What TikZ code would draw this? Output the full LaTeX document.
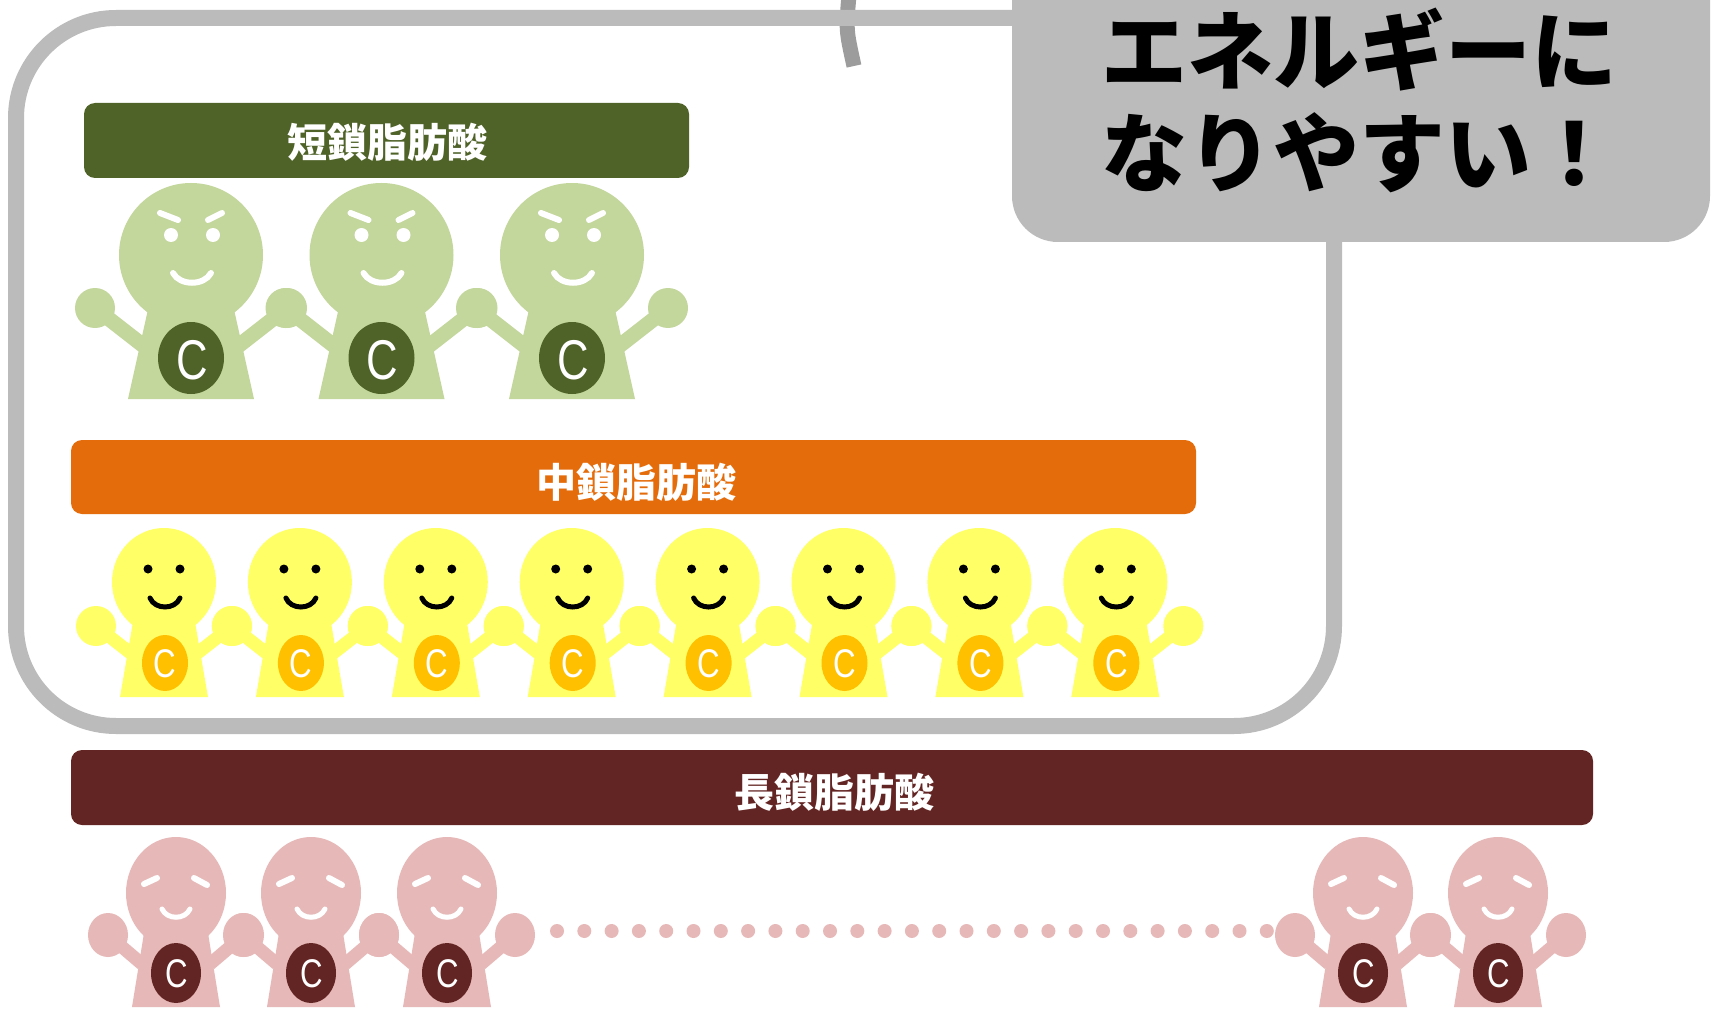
\documentclass[tikz,border=0pt]{standalone}
\usepackage{fontspec}
\setsansfont{Liberation Sans}
\newfontfamily\jp{Noto Sans CJK JP}
\definecolor{framegray}{HTML}{BBBBBB}
\definecolor{arcgray}{HTML}{9C9C9C}
\definecolor{olivedark}{HTML}{4F6228}
\definecolor{olivelight}{HTML}{C3D69B}
\definecolor{orangebar}{HTML}{E46C0A}
\definecolor{lemon}{HTML}{FFFF66}
\definecolor{amber}{HTML}{FFC000}
\definecolor{maroon}{HTML}{632523}
\definecolor{rose}{HTML}{E6B9B8}
\tikzset{
  x=1pt, y=-1pt,
  barlabel/.style={text=white, inner sep=0pt, font=\jp\bfseries\fontsize{40}{44}\selectfont},
  bubbletext/.style={text=black, inner sep=0pt, font=\jp\bfseries\fontsize{86}{90}\selectfont},
  cbig/.style={text=white, inner sep=0pt, xscale=0.78, font=\sffamily\fontsize{56}{56}\selectfont},
  csmall/.style={text=white, inner sep=0pt, xscale=0.78, font=\sffamily\fontsize{40}{40}\selectfont},
  % short-chain figure: determined face
  greenguy/.pic={
    \fill[olivelight] (-96,53) circle[radius=20] (96,53) circle[radius=20];
    \draw[olivelight, line width=15] (-96,53) -- (-46,92) (96,53) -- (46,92);
    \fill[olivelight] (-42,50) -- (42,50) -- (63,144) -- (-63,144) -- cycle;
    \fill[olivelight] (0,0) circle[radius=72];
    \fill[olivedark] (0,103) ellipse[x radius=33, y radius=36];
    \node[cbig] (-c) at (1,105) {C};
    \fill[white] (-20,-20) circle[radius=7] (22,-20) circle[radius=7];
    \draw[white, line width=6, line cap=round]
      (-31,-42) -- (-13,-35) (17,-35) -- (31,-42);
    \draw[white, line width=6, line cap=round]
      (-18,18) .. controls (-11,31) and (13,31) .. (20,18);
  },
  % medium-chain figure: smiling face
  yellowguy/.pic={
    \fill[lemon] (-68,44) circle[radius=20] (68,44) circle[radius=20];
    \draw[lemon, line width=13] (-68,44) -- (-31,73) (68,44) -- (31,73);
    \fill[lemon] (-31,40) -- (31,40) -- (44,115) -- (-44,115) -- cycle;
    \fill[lemon] (0,0) ellipse[x radius=52, y radius=54];
    \fill[amber] (1,81) ellipse[x radius=23, y radius=28];
    \node[csmall] (-c) at (1,82) {C};
    \fill[black] (-16,-13) circle[radius=4.5] (16,-13) circle[radius=4.5];
    \draw[black, line width=5, line cap=round]
      (-14,16) .. controls (-9,28) and (11,28) .. (16,16);
  },
  % long-chain figure: relaxed face
  pinkguy/.pic={
    \fill[rose] (-68,42) ellipse[x radius=20, y radius=22] (68,42) ellipse[x radius=20, y radius=22];
    \draw[rose, line width=13] (-68,42) -- (-34,71) (68,42) -- (34,71);
    \fill[rose] (-32,40) -- (32,40) -- (44,114) -- (-44,114) -- cycle;
    \fill[rose] (0,0) ellipse[x radius=50, y radius=56];
    \fill[maroon] (0,80) ellipse[x radius=25, y radius=30];
    \node[csmall] (-c) at (1,81) {C};
    \draw[white, line width=6, line cap=round]
      (-32,-9) -- (-19,-15) (18,-15) -- (31,-8);
    \draw[white, line width=5, line cap=round]
      (-14,16) .. controls (-9,27) and (9,27) .. (14,16);
  }
}
\begin{document}
\begin{tikzpicture}
\useasboundingbox (0,0) rectangle (1711,1011);
\clip (0,0) rectangle (1711,1011);
\fill[white] (0,0) rectangle (1711,1011);

% curved stroke behind the frame
\draw[arcgray, line width=15] (849,-5) .. controls (846,30) .. (854,66);

% grouping frame
\draw[framegray, line width=16, rounded corners=100pt] (16,18) rectangle (1334,726);

% speech bubble
\fill[framegray, rounded corners=46pt] (1012,-90) rectangle (1710,242);
\node[bubbletext, anchor=base west] (line1) at (1101,84) {エネルギーに};
\node[bubbletext, anchor=base west] (line2) at (1101,186) {なりやすい！};

% short-chain row
\fill[olivedark, rounded corners=11pt] (84,103) rectangle (689,178);
\node[barlabel] (shortlabel) at (387,142) {短鎖脂肪酸};
\foreach \i [count=\n] in {0,1,2}
  \pic (s\n) at (191+190.5*\i,255) {greenguy};

% medium-chain row
\fill[orangebar, rounded corners=11pt] (71,440) rectangle (1196,514);
\node[barlabel] (mediumlabel) at (636,482) {中鎖脂肪酸};
\foreach \i [count=\n] in {0,...,7}
  \pic (m\n) at (164+135.9*\i,582) {yellowguy};

% long-chain row
\fill[maroon, rounded corners=11pt] (71,750) rectangle (1593,825);
\node[barlabel] (longlabel) at (834,792) {長鎖脂肪酸};
\foreach \i in {0,...,26}
  \fill[rose] (557+27.3*\i,931) circle[radius=7];
\foreach \x [count=\n] in {176,311,447,1363,1498}
  \pic (l\n) at (\x,893) {pinkguy};
\end{tikzpicture}
\end{document}
